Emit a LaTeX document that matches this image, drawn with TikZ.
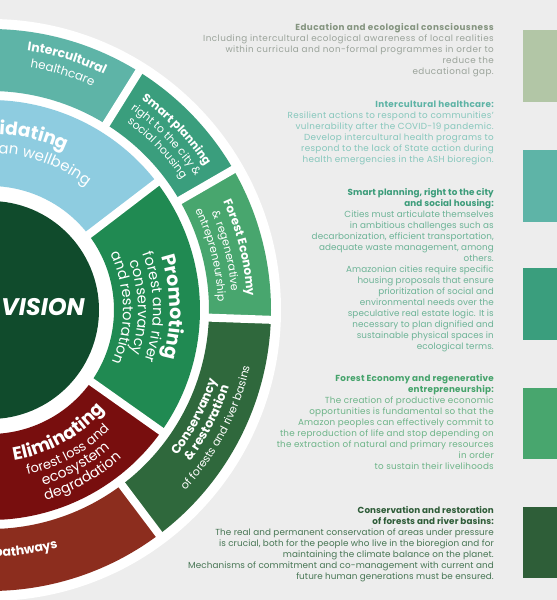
\documentclass[tikz,border=0pt]{standalone}
\usepackage{fontspec}
\setmainfont{Poppins}
\usetikzlibrary{decorations.text}

\definecolor{paper}{HTML}{EDEDED}
\definecolor{visiongreen}{HTML}{104B2C}
\definecolor{wellblue}{HTML}{8ECCE0}
\definecolor{promogreen}{HTML}{208A52}
\definecolor{elimred}{HTML}{780E0E}
\definecolor{pathred}{HTML}{8C2D1E}
\definecolor{healthteal}{HTML}{5EB4A7}
\definecolor{smartgreen}{HTML}{3A9E7D}
\definecolor{forestgreen}{HTML}{48A66E}
\definecolor{basingreen}{HTML}{2F683C}
\definecolor{edusage}{HTML}{B2C6A6}
\definecolor{basintile}{HTML}{2E5E38}
\definecolor{eduhead}{HTML}{84947F}
\definecolor{edutext}{HTML}{9AA39A}
\definecolor{healthhead}{HTML}{5DB3A5}
\definecolor{healthtext}{HTML}{86C7BC}
\definecolor{smarthead}{HTML}{3C9C7A}
\definecolor{smarttext}{HTML}{6CB396}
\definecolor{foresthead}{HTML}{45A36B}
\definecolor{foresttext}{HTML}{6DB488}
\definecolor{basinhead}{HTML}{2E5C38}
\definecolor{basintext}{HTML}{467553}

% colour, inner radius, outer radius, from angle, to angle
\newcommand{\ringpart}[5]{%
  \fill[#1] (#4:#2) arc[start angle=#4,end angle=#5,radius=#2]
    -- (#5:#3) arc[start angle=#5,end angle=#4,radius=#3] -- cycle;}

% radius, middle angle, size, weight, text (clockwise, tops outward)
\newcommand{\cwline}[5]{%
  \pgfmathsetmacro{\arcfrom}{#2+50}\pgfmathsetmacro{\arcto}{#2-50}
  \path[decorate,decoration={text along path,text align=center,
    text={|\color{white}\fontsize{#3}{#3}\selectfont#4|#5}}]
    (\arcfrom:#1) arc[start angle=\arcfrom,end angle=\arcto,radius=#1];}

% radius, middle angle, size, weight, text (anticlockwise, tops inward)
\newcommand{\ccwline}[5]{%
  \pgfmathsetmacro{\arcfrom}{#2-50}\pgfmathsetmacro{\arcto}{#2+50}
  \path[decorate,decoration={text along path,text align=center,
    text={|\color{white}\fontsize{#3}{#3}\selectfont#4|#5}}]
    (\arcfrom:#1) arc[start angle=\arcfrom,end angle=\arcto,radius=#1];}

% same, but the text starts at the given angle
\newcommand{\cwfrom}[5]{%
  \pgfmathsetmacro{\arcto}{#2-90}
  \path[decorate,decoration={text along path,text align=left,
    text={|\color{white}\fontsize{#3}{#3}\selectfont#4|#5}}]
    (#2:#1) arc[start angle=#2,end angle=\arcto,radius=#1];}
\newcommand{\ccwfrom}[5]{%
  \pgfmathsetmacro{\arcto}{#2+90}
  \path[decorate,decoration={text along path,text align=left,
    text={|\color{white}\fontsize{#3}{#3}\selectfont#4|#5}}]
    (#2:#1) arc[start angle=#2,end angle=\arcto,radius=#1];}

\begin{document}
\begin{tikzpicture}[x=1pt,y=1pt,
  gap/.style={white,line width=8pt},
  block/.style={anchor=north east,align=right,inner sep=0pt,
    font=\fontsize{8.8}{11}\selectfont\addfontfeature{LetterSpace=#1}},
  block/.default=1]
\clip (0,0) rectangle (557,600);
\fill[paper] (0,0) rectangle (557,600);

% the wheel
\begin{scope}[shift={(-10,290)}]
\fill[white] (0,0) circle[radius=291];

\ringpart{healthteal}{219}{281}{58}{100}
\ringpart{smartgreen}{219}{281}{30}{58}
\ringpart{forestgreen}{219}{281}{-2}{30}
\ringpart{basingreen}{219}{281}{-53}{-2}
\ringpart{pathred}{219}{281}{-100}{-53}

\ringpart{wellblue}{124}{210}{37.4}{120}
\ringpart{promogreen}{124}{210}{-35.3}{37.4}
\ringpart{elimred}{124}{210}{-120}{-35.3}

\foreach \a in {37.4,-35.3}
  \draw[gap] (\a:115) -- (\a:215);
\foreach \a in {58,30,-2,-53}
  \draw[gap] (\a:214) -- (\a:286);

\fill[visiongreen] (0,0) circle[radius=109];
\node[text=white,font=\fontsize{24}{24}\selectfont\bfseries\itshape] (vision) at (53,3) {VISION};

\cwline{262}{73}{12.5}{\bfseries}{Intercultural}
\cwline{246}{73}{12}{}{healthcare}
\cwline{259}{44}{11.5}{\bfseries}{Smart planning}
\cwline{245}{44}{11}{}{right to the city {\&}}
\cwline{232}{44}{11}{}{social housing}
\cwline{257}{14}{12}{\bfseries}{Forest Economy}
\cwline{242}{14}{11}{}{{\&} regenerative}
\cwline{228}{14}{11}{}{entrepreneurship}
\ccwline{237}{-27.5}{12.5}{\bfseries}{Conservancy}
\ccwline{251}{-27.5}{12.5}{\bfseries}{{\&} restoration}
\ccwline{266}{-27.5}{11}{}{of forests and river basins}
\ccwfrom{247}{-89}{12.5}{\bfseries}{pathways}

\cwfrom{176}{87}{18.5}{\bfseries}{idating}
\cwfrom{157}{87}{15}{}{an wellbeing}
\cwline{180}{1}{19}{\bfseries}{Promoting}
\cwline{163}{1}{14.5}{}{forest and river}
\cwline{148}{1}{14.5}{}{conservancy}
\cwline{133}{1}{14.5}{}{and restoration}
\ccwline{152}{-61}{18}{\bfseries}{Eliminating}
\ccwline{169}{-61}{13}{}{forest loss and}
\ccwline{183}{-61}{14}{}{ecosystem}
\ccwline{198}{-61}{14}{}{degradation}
\end{scope}

% the legend
\node[block=5,text=edutext] (edu) at (494,576.5) {{\bfseries\color{eduhead}Education and ecological consciousness}\\
Including intercultural ecological awareness of local realities\\
within curricula and non-formal programmes in order to\\
reduce the\\
educational gap.};
\node[block=3.5,text=healthtext] (health) at (494,499.5) {{\bfseries\color{healthhead}Intercultural healthcare:}\\
Resilient actions to respond to communities'\\
vulnerability after the COVID-19 pandemic.\\
Develop intercultural health programs to\\
respond to the lack of State action during\\
health emergencies in the ASH bioregion.};
\node[block=1,text=smarttext] (smart) at (494,411.5) {{\bfseries\color{smarthead}Smart planning, right to the city}\\
{\bfseries\color{smarthead}and social housing:}\\
Cities must articulate themselves\\
in ambitious challenges such as\\
decarbonization, efficient transportation,\\
adequate waste management, among\\
others.\\
Amazonian cities require specific\\
housing proposals that ensure\\
prioritization of social and\\
environmental needs over the\\
speculative real estate logic. It is\\
necessary to plan dignified and\\
sustainable physical spaces in\\
ecological terms.};
\node[block=2.5,text=foresttext] (forest) at (494,225.5) {{\bfseries\color{foresthead}Forest Economy and regenerative}\\
{\bfseries\color{foresthead}entrepreneurship:}\\
The creation of productive economic\\
opportunities is fundamental so that the\\
Amazon peoples can effectively commit to\\
the reproduction of life and stop depending on\\
the extraction of natural and primary resources\\
in order\\
to sustain their livelihoods};
\node[block=1,text=basintext] (basin) at (494,93.5) {{\bfseries\color{basinhead}Conservation and restoration}\\
{\bfseries\color{basinhead}of forests and river basins:}\\
The real and permanent conservation of areas under pressure\\
is crucial, both for the people who live in the bioregion and for\\
maintaining the climate balance on the planet.\\
Mechanisms of commitment and co-management with current and\\
future human generations must be ensured.};

\fill[edusage] (523,498) rectangle (560,570);
\fill[healthteal] (523,378) rectangle (560,450);
\fill[smartgreen] (523,260) rectangle (560,332);
\fill[forestgreen] (523,141) rectangle (560,212);
\fill[basintile] (523,22) rectangle (560,93);
\end{tikzpicture}
\end{document}
